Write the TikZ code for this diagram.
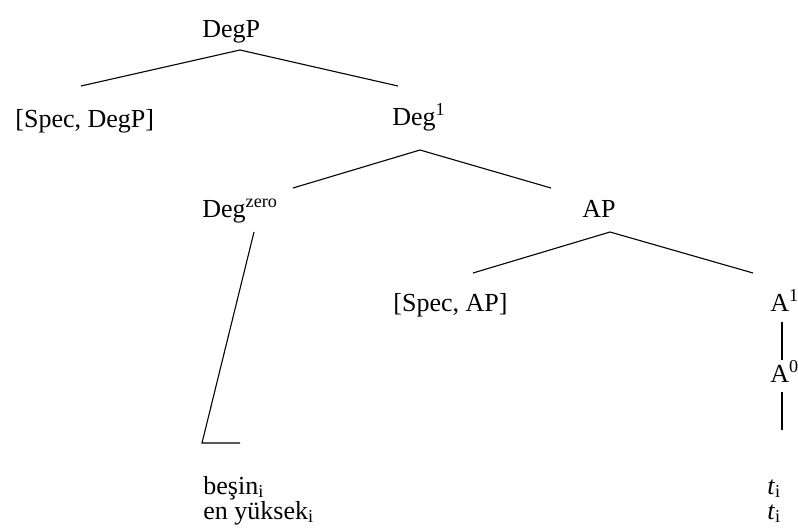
\documentclass[tikz,border=0pt]{standalone}
\usepackage{fontspec}
\setmainfont{Liberation Serif}
\usepackage{tikz}
\usetikzlibrary{calc}

\begin{document}
\begin{tikzpicture}[x=1pt,y=-1pt,thick,
                    label node/.style={anchor=base west,inner sep=0pt,font=\fontsize{26}{30}\selectfont},
                    branch/.style={draw,line width=1.1pt}]

  \useasboundingbox (0,0) rectangle (798,528);

  % labels of the tree
  \node[label node] (degp) at (202,37) {DegP};
  \node[label node] (specdegp) at (15,127) {[Spec, DegP]};
  \node[label node] (deg1) at (392,125) {Deg\textsuperscript{1}};
  \node[label node] (degzero) at (202,217) {Deg\textsuperscript{zero}};
  \node[label node] (ap) at (582,217) {AP};
  \node[label node] (specap) at (393,311) {[Spec, AP]};
  \node[label node] (a1) at (770,311) {A\textsuperscript{1}};
  \node[label node] (a0) at (770,382) {A\textsuperscript{0}};
  \node[label node] (besin) at (203,494) {beşin\textsubscript{i}};
  \node[label node] (enyuksek) at (203,519) {en yüksek\textsubscript{i}};
  \node[label node] (t1) at (767,494) {\textit{t}\textsubscript{i}};
  \node[label node] (t2) at (767,519) {\textit{t}\textsubscript{i}};

  % joints of the branches
  \coordinate (degp-b) at (240,50);
  \coordinate (specdegp-t) at (81,86);
  \coordinate (deg1-t) at (398,86);
  \coordinate (deg1-b) at (420,150);
  \coordinate (degzero-t) at (293,188);
  \coordinate (ap-t) at (551,188);
  \coordinate (degzero-b) at (254,232);
  \coordinate (corner) at (202,443);
  \coordinate (besin-t) at (240,443);
  \coordinate (ap-b) at (610,232);
  \coordinate (specap-t) at (473,273);
  \coordinate (a1-t) at (753,273);
  \coordinate (a1-b) at (782,322);
  \coordinate (a0-t) at (782,360);
  \coordinate (a0-b) at (782,392);
  \coordinate (t-t) at (782,430);

  \path[branch]
    (degp-b) edge (specdegp-t)
             edge (deg1-t)
    (deg1-b) edge (degzero-t)
             edge (ap-t)
    (ap-b) edge (specap-t)
           edge (a1-t)
    (a1-b) edge (a0-t)
    (a0-b) edge (t-t);
  \draw[branch] (degzero-b) -- (corner) -- (besin-t);

\end{tikzpicture}
\end{document}
